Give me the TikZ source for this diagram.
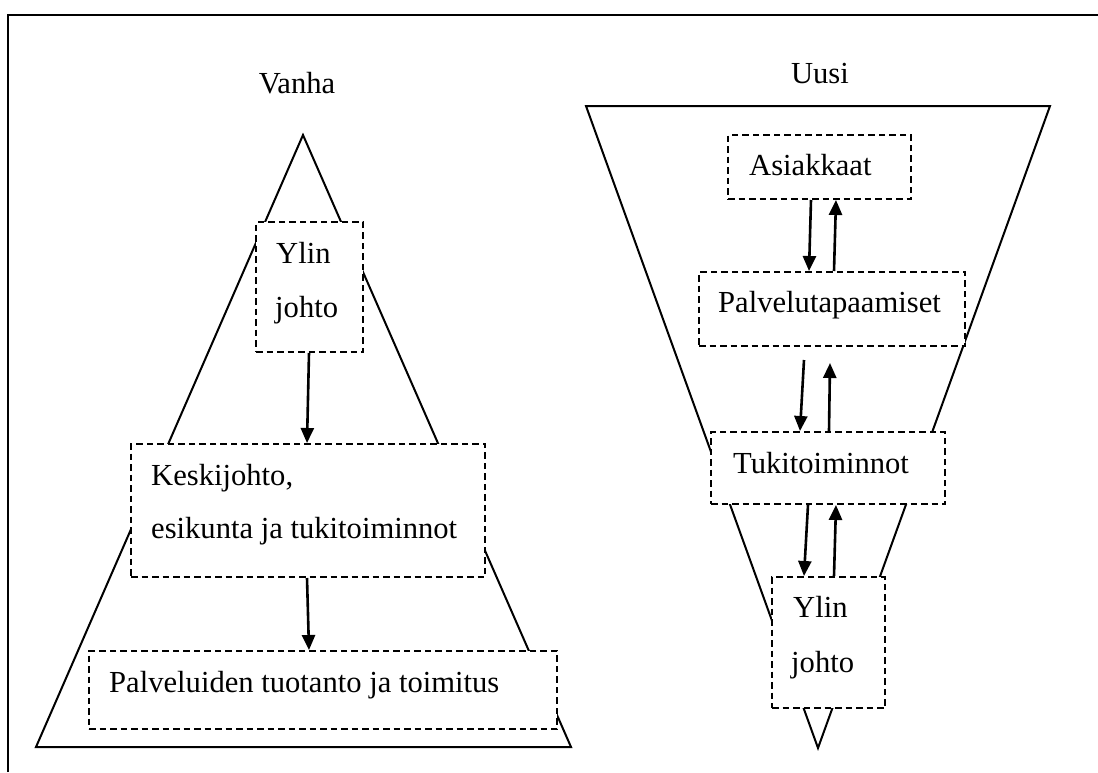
\documentclass[tikz,border=0pt]{standalone}
\usepackage{fontspec}
\setmainfont{Liberation Serif}
\usetikzlibrary{arrows.meta,calc}

\tikzset{
  shapeline/.style={line width=2pt, line join=miter},
  box/.style={draw, fill=white, line width=2pt, dash pattern=on 6.5pt off 4pt,
              rectangle, inner sep=0pt},
  txt/.style={anchor=base west, inner sep=0pt},
  ttl/.style={anchor=base, inner sep=0pt},
  arr/.style={line width=2.6pt, -{Triangle[length=15pt,width=13pt]}}
}

\begin{document}
\begin{tikzpicture}[x=1pt, y=-1pt, font=\fontsize{30.6}{36}\selectfont]
\useasboundingbox (0,0) rectangle (1098,772);

% frame
\draw[line width=2.6pt] (8,772) -- (8,15) -- (1098,15);

% titles
\node[ttl] (vanha) at (297,93) {Vanha};
\node[ttl] (uusi) at (820,83) {Uusi};

% pyramid and funnel outlines
\draw[shapeline] (36,747) -- (303,135) -- (571,747) -- cycle;
\draw[shapeline] (586,106) -- (1050,106) -- (818,748) -- cycle;

% left-hand boxes
\node[box, minimum width=107pt, minimum height=130pt] (ylinL) at (309.5,287) {};
\node[box, minimum width=354pt, minimum height=133pt] (keski) at (308,510.5) {};
\node[box, minimum width=468pt, minimum height=78pt]  (palv)  at (323,690) {};

% right-hand boxes
\node[box, minimum width=183pt, minimum height=64pt]  (asiak) at (819.5,167) {};
\node[box, minimum width=266pt, minimum height=74pt]  (palvt) at (832,309) {};
\node[box, minimum width=234pt, minimum height=72pt]  (tuki)  at (828,468) {};
\node[box, minimum width=113pt, minimum height=131pt] (ylinR) at (828.5,642.5) {};

% box texts
\node[txt] (tYlinL)  at (276,263) {Ylin};
\node[txt] (tJohtoL) at (275,317) {johto};
\node[txt] (tKeski1) at (151,485) {Keskijohto,};
\node[txt] (tKeski2) at (151,538) {esikunta ja tukitoiminnot};
\node[txt] (tPalv)   at (109,692) {Palveluiden tuotanto ja toimitus};
\node[txt] (tAsiak)  at (749,175) {Asiakkaat};
\node[txt] (tPalvt)  at (718,312) {Palvelutapaamiset};
\node[txt] (tTuki)   at (733,473) {Tukitoiminnot};
\node[txt] (tYlinR)  at (793,617) {Ylin};
\node[txt] (tJohtoR) at (791,672) {johto};

% free ends below Palvelutapaamiset
\coordinate (pDown) at ($(palvt.south west)+(106,13)$);
\coordinate (pUp)   at ($(palvt.south west)+(132,16)$);

% left-hand arrows
\draw[arr] ($(ylinL.south west)+(54,0)$) -- ($(keski.north west)+(177,0)$);
\draw[arr] ($(keski.south west)+(177,0)$) -- ($(palv.north west)+(221,0)$);

% right-hand arrows
\draw[arr] ($(asiak.south west)+(84,0)$)  -- ($(palvt.north west)+(111,0)$);
\draw[arr] ($(palvt.north west)+(136,0)$) -- ($(asiak.south west)+(109,0)$);
\draw[arr] (pDown) -- ($(tuki.north west)+(90,0)$);
\draw[arr] ($(tuki.north west)+(119,0)$) -- (pUp);
\draw[arr] ($(tuki.south west)+(98,0)$)  -- ($(ylinR.north west)+(33,0)$);
\draw[arr] ($(ylinR.north west)+(63,0)$) -- ($(tuki.south west)+(126,0)$);
\end{tikzpicture}
\end{document}
